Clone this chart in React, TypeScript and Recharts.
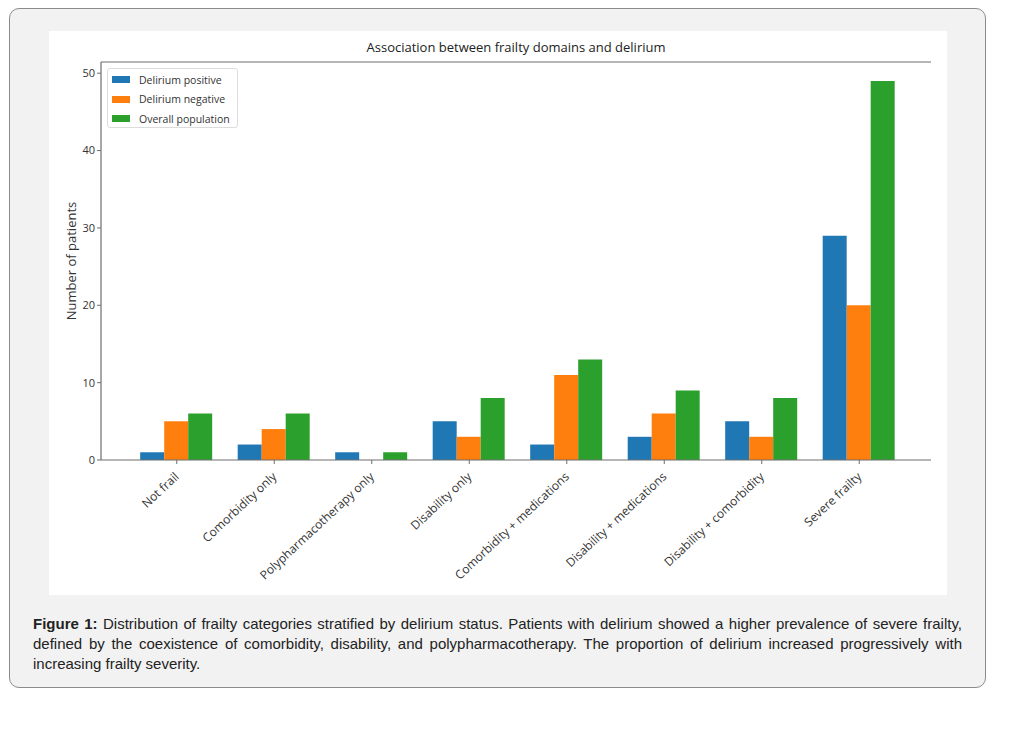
import React from "react";
import { BarChart, Bar, XAxis, YAxis, ReferenceLine } from "recharts";

const categories = [
  "Not frail",
  "Comorbidity only",
  "Polypharmacotherapy only",
  "Disability only",
  "Comorbidity + medications",
  "Disability + medications",
  "Disability + comorbidity",
  "Severe frailty",
];
const deliriumPositive = [1, 2, 1, 5, 2, 3, 5, 29];
const deliriumNegative = [5, 4, 0, 3, 11, 6, 3, 20];
const overallPopulation = [6, 6, 1, 8, 13, 9, 8, 49];
const yTicks = [0, 10, 20, 30, 40, 50];
const yMax = 51.45;

const seriesDefs = [
  { key: "pos", name: "Delirium positive", color: "#1f77b4" },
  { key: "neg", name: "Delirium negative", color: "#ff7f0e" },
  { key: "all", name: "Overall population", color: "#2ca02c" },
];

const data = categories.map((c, i) => ({
  category: c,
  pos: deliriumPositive[i],
  neg: deliriumNegative[i],
  all: overallPopulation[i],
}));

const FONT = "'Open Sans', sans-serif";
const AXIS = "#6e6e6e";

const XTick = (props: any) => {
  const { x, y, payload } = props;
  const ax = x - 4;
  const ay = y + 4;
  return (
    <text
      x={ax}
      y={ay}
      transform={`rotate(-43 ${ax} ${ay})`}
      textAnchor="end"
      dominantBaseline="hanging"
      fontFamily={FONT}
      fontSize={12}
      fill="#333"
    >
      {payload.value}
    </text>
  );
};

const LegendBox = () => (
  <div
    style={{
      position: "absolute",
      left: 58,
      top: 37,
      width: 131,
      height: 60,
      boxSizing: "border-box",
      border: "1px solid #dcdcdc",
      borderRadius: 3,
      background: "rgba(255,255,255,0.9)",
      padding: "1px 0 0 4px",
      fontFamily: FONT,
      fontSize: 10.5,
      color: "#333",
    }}
  >
    {seriesDefs.map((s) => (
      <div
        key={s.key}
        style={{ display: "flex", alignItems: "center", height: 19.5 }}
      >
        <span
          style={{
            display: "inline-block",
            width: 18,
            height: 7,
            background: s.color,
            marginRight: 9,
          }}
        />
        <span>{s.name}</span>
      </div>
    ))}
  </div>
);

export default function App() {
  return (
    <div style={{ position: "relative", width: 1019, height: 735 }}>
      <div
        style={{
          position: "absolute",
          left: 1,
          top: 0,
          width: 975,
          height: 678,
          border: "1px solid #8c8c8c",
          borderRadius: 10,
          background: "#f2f2f2",
        }}
      />
      <div
        style={{
          position: "absolute",
          left: 41,
          top: 23,
          width: 898,
          height: 564,
          background: "#ffffff",
        }}
      >
        <div
          style={{
            position: "absolute",
            left: 52,
            width: 830,
            top: 7,
            textAlign: "center",
            fontFamily: FONT,
            fontSize: 13,
            color: "#222",
          }}
        >
          Association between frailty domains and delirium
        </div>
        <BarChart
          width={898}
          height={564}
          data={data}
          margin={{ top: 31, right: 16, left: 0, bottom: 0 }}
          barCategoryGap="12.5%"
          barGap={0}
        >
          <XAxis
            dataKey="category"
            height={135}
            interval={0}
            padding={{ left: 27, right: 23 }}
            tick={<XTick />}
            tickSize={4}
            axisLine={{ stroke: AXIS, strokeWidth: 1.2 }}
            tickLine={{ stroke: AXIS }}
          />
          <YAxis
            yAxisId="left"
            width={52}
            domain={[0, yMax]}
            ticks={yTicks}
            allowDataOverflow
            tickSize={4}
            axisLine={{ stroke: AXIS, strokeWidth: 1.2 }}
            tickLine={{ stroke: AXIS }}
            tick={{ fontFamily: FONT, fontSize: 11, fill: "#333" }}
            label={{
              value: "Number of patients",
              angle: -90,
              position: "insideLeft",
              offset: 22,
              style: {
                fontFamily: FONT,
                fontSize: 13,
                fill: "#333",
                textAnchor: "middle",
              },
            }}
          />
          <YAxis
            yAxisId="right"
            orientation="right"
            width={0}
            domain={[0, yMax]}
            tick={false}
            tickLine={false}
            axisLine={{ stroke: AXIS, strokeWidth: 1.2 }}
          />
          <ReferenceLine
            yAxisId="left"
            y={yMax}
            stroke={AXIS}
            strokeWidth={1.2}
            ifOverflow="extendDomain"
          />
          {seriesDefs.map((s) => (
            <Bar
              key={s.key}
              yAxisId="left"
              dataKey={s.key}
              name={s.name}
              fill={s.color}
              isAnimationActive={false}
            />
          ))}
        </BarChart>
        <LegendBox />
      </div>
      <div
        style={{
          position: "absolute",
          left: 25,
          top: 606,
          width: 929,
          fontFamily: "'Liberation Sans', Arial, sans-serif",
          fontSize: 15,
          lineHeight: "20px",
          color: "#222",
        }}
      >
        <div style={{ textAlign: "justify", textAlignLast: "justify" }}>
          <b>Figure 1:</b> Distribution of frailty categories stratified by
          delirium status. Patients with delirium showed a higher prevalence of
          severe frailty,
        </div>
        <div style={{ textAlign: "justify", textAlignLast: "justify" }}>
          defined by the coexistence of comorbidity, disability, and
          polypharmacotherapy. The proportion of delirium increased
          progressively with
        </div>
        <div>increasing frailty severity.</div>
      </div>
    </div>
  );
}
